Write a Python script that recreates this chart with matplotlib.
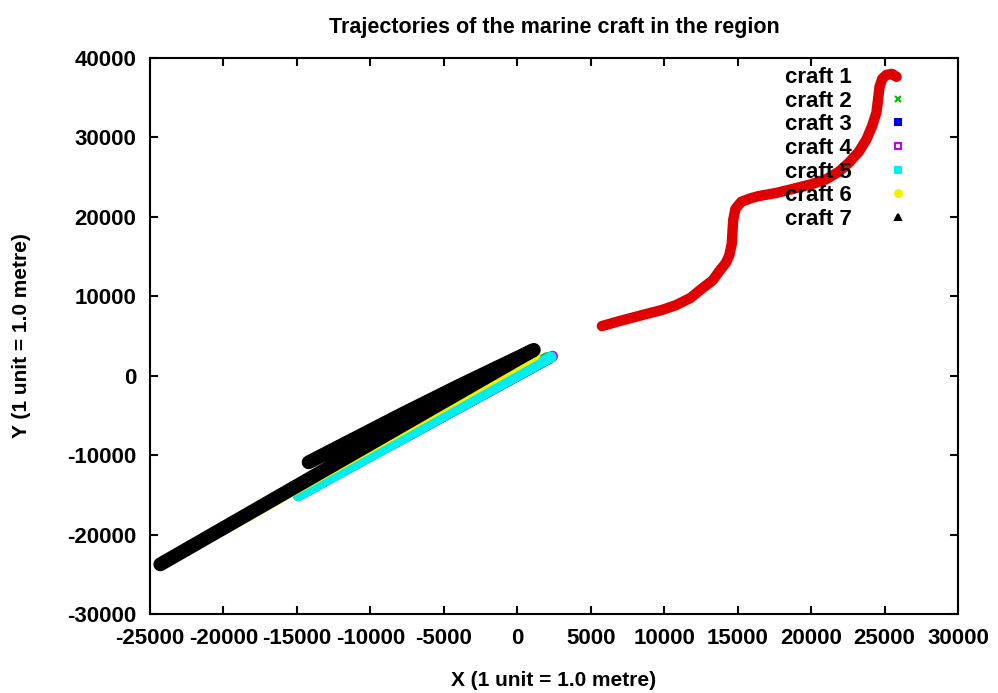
import numpy as np
import matplotlib
matplotlib.use("Agg")
import matplotlib.pyplot as plt
from matplotlib.lines import Line2D

plt.rcParams["font.family"] = ["Liberation Sans", "DejaVu Sans"]
plt.rcParams["font.weight"] = "bold"
plt.rcParams["axes.unicode_minus"] = False

TITLE = "Trajectories of the marine craft in the region"
XLABEL = "X (1 unit = 1.0 metre)"
YLABEL = "Y (1 unit = 1.0 metre)"

CRAFT_NAMES = ["craft 1", "craft 2", "craft 3", "craft 4", "craft 5", "craft 6", "craft 7"]

# waypoints per craft (NaN breaks a track into separate legs)
craft1_x = [5760, 7000, 8490, 9800, 10800, 11800, 12590, 13300, 13740, 14200, 14430,
            14600, 14650, 14700, 14850, 15250, 15900, 16470, 17600, 18720, 20000,
            21040, 21900, 22610, 23250, 23770, 24150, 24450, 24560, 24660, 24850,
            25130, 25500, 25820]
craft1_y = [6250, 6900, 7630, 8250, 8880, 9800, 11000, 12000, 13130, 14200, 15130,
            16600, 18130, 19600, 21000, 21900, 22350, 22630, 23000, 23500, 24100,
            24750, 25700, 26880, 28200, 29750, 31400, 33130, 34800, 36380, 37400,
            37880, 38000, 37630]
craft2_x = [-15000, 2000]
craft2_y = [-14900, 2350]
craft3_x = [-8600, 2200]
craft3_y = [-8800, 2100]
craft4_x = [-14900, 2400]
craft4_y = [-15100, 2450]
craft5_x = [-14900, 2300]
craft5_y = [-15100, 2350]
craft6_x = [-21000, 1200, np.nan, -12000, -8000]
craft6_y = [-20400, 2600, np.nan, -8800, -5000]
craft7_x = [-14200, -7900, -4000, 1125, -24300]
craft7_y = [-10900, -4900, -1300, 3250, -23750]

XTICKS = [-25000, -20000, -15000, -10000, -5000, 0, 5000, 10000, 15000, 20000, 25000, 30000]
YTICKS = [-30000, -20000, -10000, 0, 10000, 20000, 30000, 40000]

COLORS = ["#e00000", "#00c000", "#0000e0", "#c000ff", "#00eeee", "#f0f000", "#000000"]
MARKERS = ["+", "x", "s", "s", "s", "o", "^"]
FILLS = ["full", "full", "full", "none", "full", "full", "full"]
WIDTHS = [7.5, 7, 7, 8, 8, 8, 10]

tracks = [(craft1_x, craft1_y), (craft2_x, craft2_y), (craft3_x, craft3_y),
          (craft4_x, craft4_y), (craft5_x, craft5_y), (craft6_x, craft6_y),
          (craft7_x, craft7_y)]

fig = plt.figure(figsize=(9.98, 6.93), dpi=100)
ax = fig.add_axes([0.1503, 0.114, 0.8096, 0.8023])

for (xs, ys), c, lw in zip(tracks, COLORS, WIDTHS):
    ax.plot(xs, ys, color=c, lw=lw, solid_capstyle="round", solid_joinstyle="round")

ax.set_xlim(-25000, 30000)
ax.set_ylim(-30000, 40000)
ax.set_xticks(XTICKS)
ax.set_yticks(YTICKS)
ax.tick_params(direction="in", length=6, width=1.5, top=True, right=True,
               labelsize=16, pad=10)
for lab in ax.get_xticklabels() + ax.get_yticklabels():
    lab.set_fontweight("bold")
for sp in ax.spines.values():
    sp.set_linewidth(1.5)

ax.set_title(TITLE, fontsize=15.5, fontweight="bold", pad=18)
ax.set_xlabel(XLABEL, fontsize=15, fontweight="bold", labelpad=16)
ax.set_ylabel(YLABEL, fontsize=15, fontweight="bold", labelpad=26)

handles = [Line2D([], [], color=c, marker=m, fillstyle=f, linestyle="none",
                  markersize=5, markeredgewidth=1.5)
           for c, m, f in zip(COLORS, MARKERS, FILLS)]
ax.legend(handles, CRAFT_NAMES, loc="upper right", bbox_to_anchor=(0.951, 1.0),
          frameon=False, markerfirst=False, handlelength=1.0, handletextpad=1.6,
          labelspacing=0.12, borderaxespad=0.0, prop={"size": 16, "weight": "bold"})

fig.savefig("out.png", dpi=100)
